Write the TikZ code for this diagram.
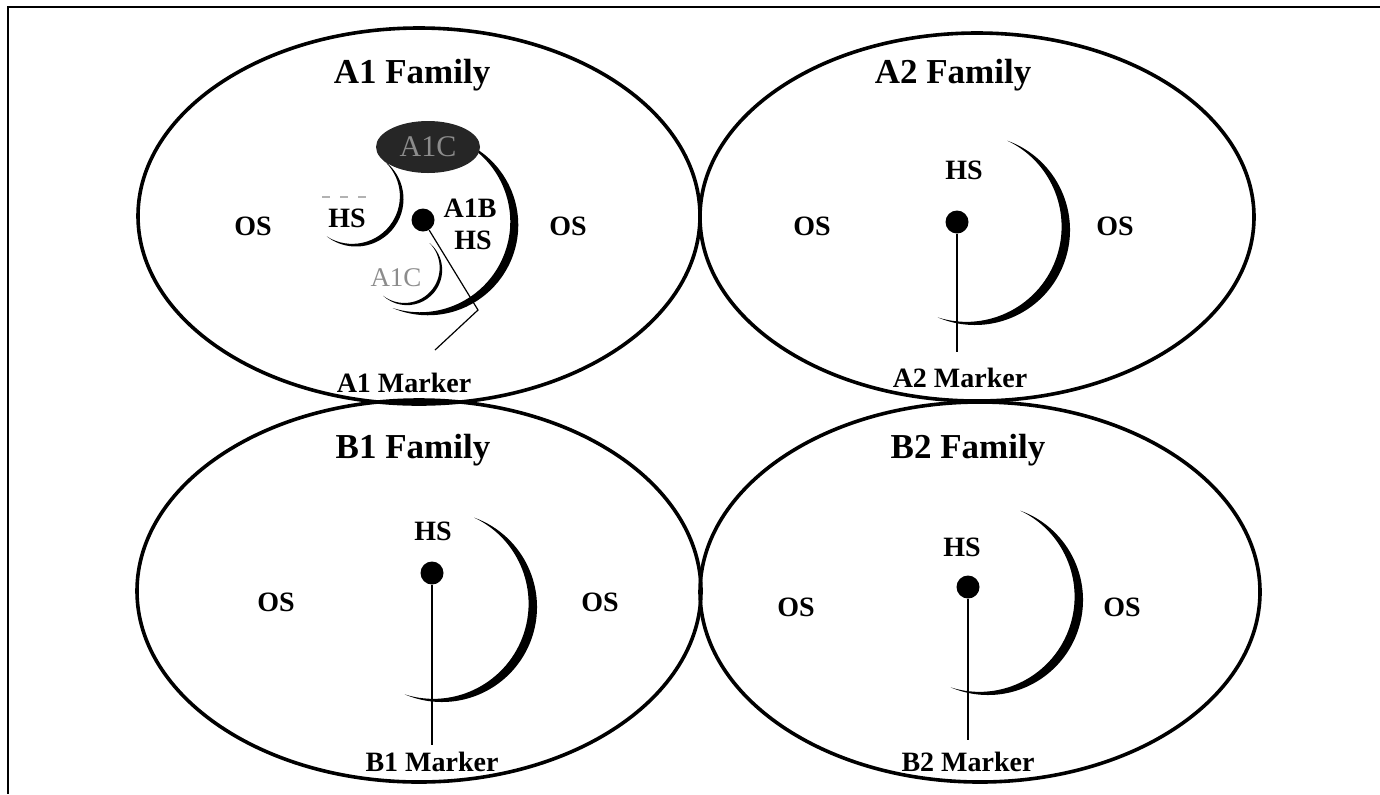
\documentclass[tikz,border=0pt]{standalone}
\usepackage{fontspec}
\setmainfont{Liberation Serif}
\usetikzlibrary{shapes.geometric}
\begin{document}
\begin{tikzpicture}[
    x=0.5pt, y=-0.5pt,
    family/.style={line width=1.8pt},
    title/.style={anchor=base, font=\bfseries\fontsize{17.5}{20}\selectfont},
    lbl/.style={anchor=base, font=\bfseries\fontsize{14}{16}\selectfont},
    faint/.style={anchor=base, text=black!45, font=\fontsize{13.5}{16}\selectfont},
    spot/.style={circle, fill=black, inner sep=0pt, minimum size=11.5pt},
    wire/.style={line width=0.6pt},
    moon/.pic={
        \fill (-70:95) arc[start angle=-70, end angle=113, radius=95]
            arc[start angle=107.43, end angle=-64.43, radius=95.2] -- cycle;
    }
]
\useasboundingbox (0,0) rectangle (1380,794);
\draw[line width=1pt] (1380,7) -- (8,7) -- (8,794);

% the four families
\draw[family] (419,216) ellipse[x radius=281, y radius=188];
\draw[family] (977,217) ellipse[x radius=277, y radius=184];
\draw[family] (419,591) ellipse[x radius=282, y radius=191];
\draw[family] (980,592) ellipse[x radius=280, y radius=190];

\node[title] (a1title) at (412,83) {A1 Family};
\node[title] (a2title) at (953,83) {A2 Family};
\node[title] (b1title) at (413,458) {B1 Family};
\node[title] (b2title) at (968,458) {B2 Family};

% A1 family
\pic at (428,225) [scale=0.95] {moon};
\pic at (356,199) [scale=0.5, rotate=-15] {moon};
\pic at (407,270) [scale=0.37, rotate=-20] {moon};
\node[ellipse, fill=black!85, minimum width=52pt, minimum height=26pt, inner sep=0pt,
    text=black!45, font=\fontsize{15}{16}\selectfont] (a1a) at (428,147) {A1C};
\draw[black!30, line width=0.6pt, dash pattern=on 4pt off 5pt] (322,197) -- (367,197);
\node[lbl] (a1os1) at (253,235) {OS};
\node[lbl] (a1os2) at (568,235) {OS};
\node[lbl] (a1hs) at (347,227) {HS};
\node[lbl] (a1b) at (470,217) {A1B};
\node[lbl] (a1bhs) at (473,249) {HS};
\node[faint] (a1c) at (396,286) {A1C};
\node[spot] (a1dot) at (423,220) {};
\node[lbl] (a1mark) at (404,392) {A1 Marker};
\coordinate (a1bend) at (478,310);
\coordinate (a1end) at (435,350);
\draw[wire] (a1dot) -- (a1bend) -- (a1end);

% A2 family
\pic at (975,230) {moon};
\node[lbl] (a2os1) at (812,235) {OS};
\node[lbl] (a2os2) at (1115,235) {OS};
\node[lbl] (a2hs) at (964,179) {HS};
\node[spot] (a2dot) at (957,222) {};
\node[lbl] (a2mark) at (960,387) {A2 Marker};
\coordinate (a2end) at (957,352);
\draw[wire] (a2dot) -- (a2end);

% B1 family
\pic at (442,607) {moon};
\node[lbl] (b1os1) at (276,611) {OS};
\node[lbl] (b1os2) at (600,611) {OS};
\node[lbl] (b1hs) at (433,540) {HS};
\node[spot] (b1dot) at (432,573) {};
\node[lbl] (b1mark) at (432,771) {B1 Marker};
\coordinate (b1end) at (432,745);
\draw[wire] (b1dot) -- (b1end);

% B2 family
\pic at (988,600) {moon};
\node[lbl] (b2os1) at (796,616) {OS};
\node[lbl] (b2os2) at (1122,616) {OS};
\node[lbl] (b2hs) at (962,556) {HS};
\node[spot] (b2dot) at (968,587) {};
\node[lbl] (b2mark) at (968,771) {B2 Marker};
\coordinate (b2end) at (968,740);
\draw[wire] (b2dot) -- (b2end);
\end{tikzpicture}
\end{document}
